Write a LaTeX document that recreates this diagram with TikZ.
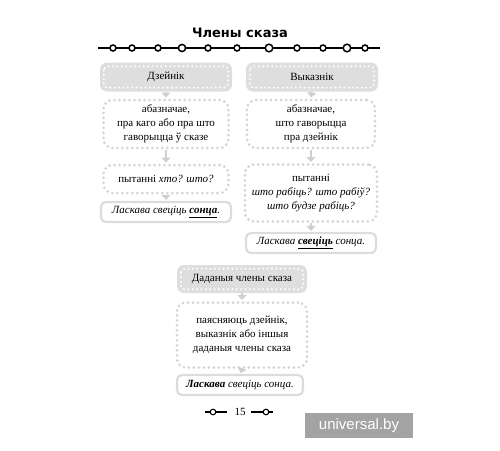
\documentclass[tikz,border=0pt]{standalone}
\usepackage{fontspec}
\setmainfont{Liberation Serif}
\newfontfamily\titlefont{DejaVu Sans}
\newfontfamily\markfont{Liberation Sans}
\usetikzlibrary{arrows.meta}

\definecolor{headgrey}{HTML}{DEDEDE}
\definecolor{dotgrey}{HTML}{D4D4D4}
\definecolor{framegrey}{HTML}{DCDCDC}
\definecolor{arrowgrey}{HTML}{CFCFCF}
\definecolor{markgrey}{HTML}{A3A3A3}

\begin{document}
\begin{tikzpicture}[
    x=1pt, y=-1pt,
    font=\fontsize{11}{14}\selectfont,
    head/.style={rectangle,rounded corners=7pt,fill=headgrey,inner sep=0pt,
        minimum width=132pt,minimum height=29pt},
    note/.style={rectangle,rounded corners=9pt,draw=dotgrey,line width=3pt,
        dash pattern=on 0pt off 5pt,line cap=round,align=center,inner sep=2pt,
        minimum width=125pt},
    sample/.style={rectangle,rounded corners=5pt,draw=framegrey,line width=2.2pt,
        inner sep=0pt,minimum width=130pt,minimum height=20pt},
    link/.style={draw=arrowgrey,line width=2pt,
        -{Triangle[width=9pt,length=5pt]},shorten >=1pt},
    pearls/.style={white,line width=2.2pt,dash pattern=on 0pt off 4.4pt,line cap=round}
]
\useasboundingbox (0,0) rectangle (500,450);

% Title
\node[font=\titlefont\bfseries\fontsize{13}{14}\selectfont] (title) at (240,33) {Члены сказа};
\draw[line width=1.2pt] (98,48) -- (380,48);
\foreach \cx/\r in {113/3,132/3,158/3,182/3.6,208/3,237/3,269/3.8,297/3,323/3,347/3.8,365/3}
    \draw[line width=1.5pt,fill=white] (\cx,48) circle (\r);

% Subject
\node[head] (dzh) at (166,77) {Дзейнік};
\node[note,minimum height=48pt] (dzdef) at (166,124)
    {абазначае,\\пра каго або пра што\\гаворыцца ў сказе};
\node[note,minimum height=28pt] (dzq) at (166,179) {пытанні \textit{хто? што?}};
\node[sample] (dzex) at (166,212) {\textit{Ласкава свеціць \underline{\textbf{сонца}}.}};

% Predicate
\node[head] (vyh) at (312,77) {Выказнік};
\node[note,minimum width=128pt,minimum height=48pt] (vydef) at (311,124)
    {абазначае,\\што гаворыцца\\пра дзейнік};
\node[note,minimum width=132pt,minimum height=57pt] (vyq) at (311,193)
    {пытанні\\\textit{што рабіць? што рабіў?}\\\textit{што будзе рабіць?}};
\node[sample] (vyex) at (311,243) {\textit{Ласкава \underline{\textbf{свеціць}} сонца.}};

% Secondary parts
\node[head,minimum width=130pt,minimum height=28pt] (ddh) at (242,279) {Даданыя члены сказа};
\node[note,minimum width=130pt,minimum height=65pt] (dddef) at (242,335)
    {паясняюць дзейнік,\\выказнік або іншыя\\даданыя члены сказа};
\node[sample,minimum width=126pt] (ddex) at (240,385) {\textit{\textbf{Ласкава} свеціць сонца.}};

% Dots inside the headers
\foreach \h in {dzh,vyh,ddh}
    \draw[pearls,rounded corners=4pt] ([xshift=4pt,yshift=-4pt]\h.north west)
        rectangle ([xshift=-4pt,yshift=4pt]\h.south east);

% Arrows
\draw[link] (dzh) -- (dzdef);
\draw[link] (dzdef) -- (dzq);
\draw[link] (dzq) -- (dzex);
\draw[link] (vyh.south) -- (vydef.north);
\draw[link] (vydef.south) -- (vyq.north);
\draw[link] (vyq.south) -- (vyex.north);
\draw[link] (ddh.south) -- (dddef.north);
\draw[link] (dddef.south) -- (ddex.north);

% Page number
\node (page) at (240,412) {15};
\draw[line width=1.1pt] (205,412) -- (227,412);
\draw[line width=1.1pt,fill=white] (213,412) circle (2.8);
\draw[line width=1.1pt] (251,412) -- (273,412);
\draw[line width=1.1pt,fill=white] (266,412) circle (2.8);

% Watermark
\node[fill=markgrey,text=white,inner sep=0pt,minimum width=108pt,minimum height=25pt,
    font=\markfont\fontsize{15}{15}\selectfont] (mark) at (359,425.5) {universal.by};
\end{tikzpicture}
\end{document}
